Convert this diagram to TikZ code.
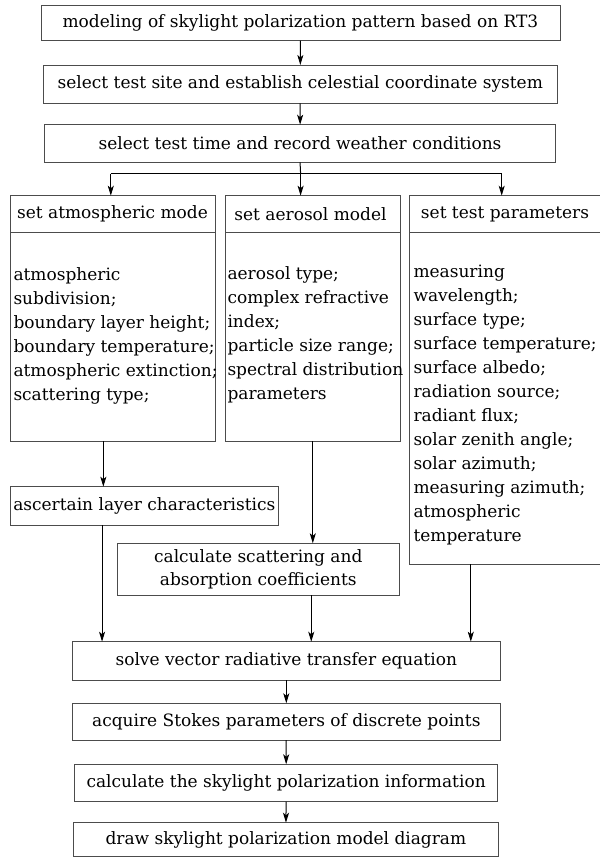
\documentclass[tikz,border=0pt]{standalone}
\usepackage{fontspec}
\setmainfont{DejaVu Serif}
\usetikzlibrary{arrows.meta,calc}
\tikzset{
  box/.style={draw=black!70, line width=0.9pt, inner sep=0pt, outer sep=0pt, align=center},
  arr/.style={draw=black, line width=1pt, -{Stealth[length=10pt,width=6pt,inset=2.5pt]}},
  ln/.style={draw=black, line width=1pt},
  hline/.style={draw=black!70, line width=0.9pt},
  lst/.style={anchor=base west, align=left, inner sep=0pt, font=\fsz},
  hdr/.style={anchor=center, inner sep=0pt, font=\fsz},
}
\newcommand{\fsz}{\fontsize{17}{24}\selectfont}
\begin{document}
\begin{tikzpicture}[x=1pt,y=-1pt]
\useasboundingbox (0,0) rectangle (599,858);
\fill[white] (0,0) rectangle (599,858);
% top boxes
\node[box, minimum width=519pt, minimum height=35pt, font=\fsz] (b1) at (300.45,23.2) {modeling of skylight polarization pattern based on RT3};
\node[box, minimum width=513.5pt, minimum height=38.3pt, font=\fsz] (b2) at (300.25,84.15) {select test site and establish celestial coordinate system};
\node[box, minimum width=511.5pt, minimum height=37.6pt, font=\fsz] (b3) at (300.05,143.5) {select test time and record weather conditions};
% columns
\node[box, minimum width=205.7pt, minimum height=245.3pt] (colL) at (112.85,318.35) {};
\node[box, minimum width=175pt, minimum height=245.3pt] (colM) at (312.8,318.35) {};
\node[box, minimum width=194pt, minimum height=368.6pt] (colR) at (506.3,380) {};
\draw[hline] (colL.west |- 0,232.3) -- (colL.east |- 0,232.3);
\draw[hline] (colM.west |- 0,232.3) -- (colM.east |- 0,232.3);
\draw[hline] (colR.west |- 0,232.3) -- (colR.east |- 0,232.3);
\node[hdr] (hL) at (112.5,214) {set atmospheric mode};
\node[hdr] (hM) at (310.5,214) {set aerosol model};
\node[hdr] (hR) at (505,214) {set test parameters};
% lists (anchored at the baseline of their last line)
\node[lst] (tL) at (13.3,400.5) {atmospheric\\subdivision;\\boundary layer height;\\boundary temperature;\\atmospheric extinction;\\scattering type;};
\node[lst] (tM) at (227.3,399.3) {aerosol type;\\complex refractive\\index;\\particle size range;\\spectral distribution\\parameters};
\node[lst] (tR) at (413.3,541) {measuring\\wavelength;\\surface type;\\surface temperature;\\surface albedo;\\radiation source;\\radiant flux;\\solar zenith angle;\\solar azimuth;\\measuring azimuth;\\atmospheric\\temperature};
% middle boxes
\node[box, minimum width=268.7pt, minimum height=38.6pt, font=\fsz] (asc) at (144.35,506) {ascertain layer characteristics};
\node[box, minimum width=281.9pt, minimum height=52pt, font=\fontsize{17}{23.3}\selectfont] (calc) at (258.25,569.3) {calculate scattering and\\absorption coefficients};
% bottom chain
\node[box, minimum width=427.4pt, minimum height=38.6pt, font=\fsz] (solve) at (286.3,661) {solve vector radiative transfer equation};
\node[box, minimum width=427.4pt, minimum height=36.7pt, font=\fsz] (acq) at (286.3,721.65) {acquire Stokes parameters of discrete points};
\node[box, minimum width=423.2pt, minimum height=37.4pt, font=\fsz] (sky) at (286.1,783) {calculate the skylight polarization information};
\node[box, minimum width=425.2pt, minimum height=34pt, font=\fsz] (drw) at (285.9,839.7) {draw skylight polarization model diagram};
% connectors
\coordinate (jL) at (110.8,173.7);
\coordinate (jM) at (300.6,173.7);
\coordinate (jR) at (501.7,173.7);
\draw[arr] (b1) -- (b2);
\draw[arr] (b2) -- (b3);
\draw[ln] (b3.south) -- (jM);
\draw[ln] (jL) -- (jR);
\draw[arr] (jL) -- (jL |- colL.north);
\draw[arr] (jM) -- (jM |- colM.north);
\draw[arr] (jR) -- (jR |- colR.north);
\draw[arr] ([xshift=-9.5pt]colL.south) -- ([xshift=-9.5pt]colL.south |- asc.north);
\draw[arr] (colM.south) -- (colM.south |- calc.north);
\draw[arr] ([xshift=-42.3pt]asc.south) -- ([xshift=-42.3pt]asc.south |- solve.north);
\draw[arr] ([xshift=53pt]calc.south) -- ([xshift=53pt]calc.south |- solve.north);
\draw[arr] ([xshift=-35.5pt]colR.south) -- ([xshift=-35.5pt]colR.south |- solve.north);
\draw[arr] (solve) -- (acq);
\draw[arr] (acq) -- (sky);
\draw[arr] (sky) -- (drw);
\end{tikzpicture}
\end{document}
